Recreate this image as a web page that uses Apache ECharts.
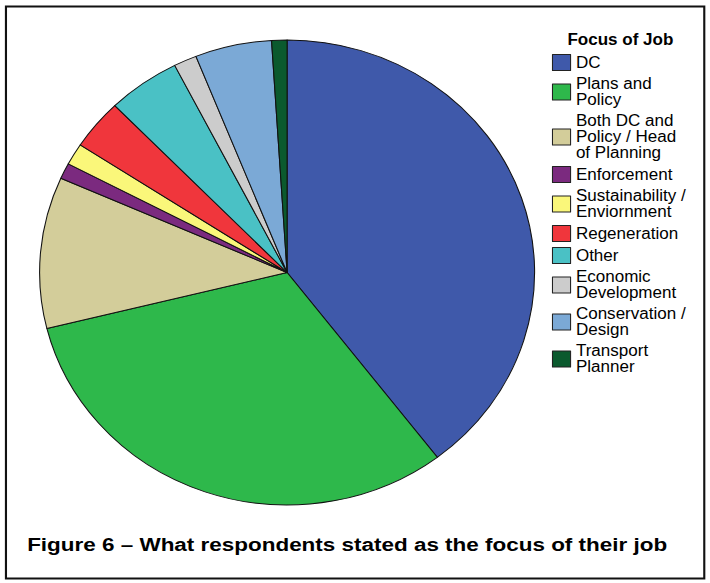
<!DOCTYPE html>
<html>
<head>
<meta charset="utf-8">
<script src="https://cdn.jsdelivr.net/npm/echarts@6/dist/echarts.min.js"></script>
<style>
html,body{margin:0;padding:0;background:#fff;overflow:hidden;}
#chart{position:absolute;left:0;top:0;width:667px;height:583px;transform:scaleX(1.0645);transform-origin:0 0;}
</style>
</head>
<body>
<div id="chart"></div>
<script>
// Categories (pie order, clockwise from 12 o'clock)
const categories = ['DC','Plans and Policy','Both DC and Policy / Head of Planning','Enforcement','Sustainability / Enviornment','Regeneration','Other','Economic Development','Conservation / Design','Transport Planner'];
// Legend labels as wrapped in the reference
const legendLabels = ['DC','Plans and\nPolicy','Both DC and\nPolicy / Head\nof Planning','Enforcement','Sustainability /\nEnviornment','Regeneration','Other','Economic\nDevelopment','Conservation /\nDesign','Transport\nPlanner'];
// Share of respondents (%)
const values = [39.6, 31.5, 10.5, 1.1, 1.5, 3.5, 4.75, 1.5, 5.0, 1.0];
const colors = ['#3F59AA','#2EB84B','#D3CD9A','#7B2A7F','#FAF77A','#F0363C','#4AC1C5','#CCCCCC','#7BA9D6','#0B5A2E'];
const legendTitle = 'Focus of Job';
const figureTitle = 'Figure 6 \u2013 What respondents stated as the focus of their job';

const labelMap = {};
categories.forEach((c,i)=>{labelMap[c]=legendLabels[i];});

const chart = echarts.init(document.getElementById('chart'), null, {renderer:'svg'});
chart.setOption({
  animation:false,
  backgroundColor:'#fff',
  color: colors,
  title:[
    {text: legendTitle, left: 533, top: 32, padding:0,
     textStyle:{fontFamily:'Liberation Sans, Arial, sans-serif', fontWeight:'bold', fontSize:16, color:'#000'}}
  ],
  legend:{
    orient:'vertical', left: 518.5, top: 54, padding:0,
    itemWidth:17, itemHeight:16, itemGap:5,
    icon:'rect',
    selectedMode:false,
    itemStyle:{borderColor:'#222', borderWidth:1},
    formatter: name => labelMap[name],
    textStyle:{fontFamily:'Liberation Sans, Arial, sans-serif', fontSize:16, lineHeight:16, color:'#000', padding:[0,0,0,0]},
    data: categories
  },
  graphic:[
    {type:'rect', shape:{x:5.6, y:6.5, width:656, height:572}, style:{fill:'none', stroke:'#111', lineWidth:2}, silent:true},
    {type:'text', x:25.5, y:535, scaleX:1.135, originX:0, originY:0, silent:true,
     style:{text: figureTitle, x:0, y:0, verticalAlign:'top', align:'left',
            font:'bold 18.6px "Liberation Sans", Arial, sans-serif', fill:'#000'}}
  ],
  series:[{
    type:'pie',
    center:[269.7, 272.5],
    radius: 232.5,
    startAngle:90,
    clockwise:true,
    label:{show:false},
    labelLine:{show:false},
    silent:true,
    itemStyle:{borderColor:'#111', borderWidth:1},
    data: categories.map((c,i)=>({name:c, value:values[i], itemStyle:{color:colors[i]}}))
  }]
});
</script>
</body>
</html>
